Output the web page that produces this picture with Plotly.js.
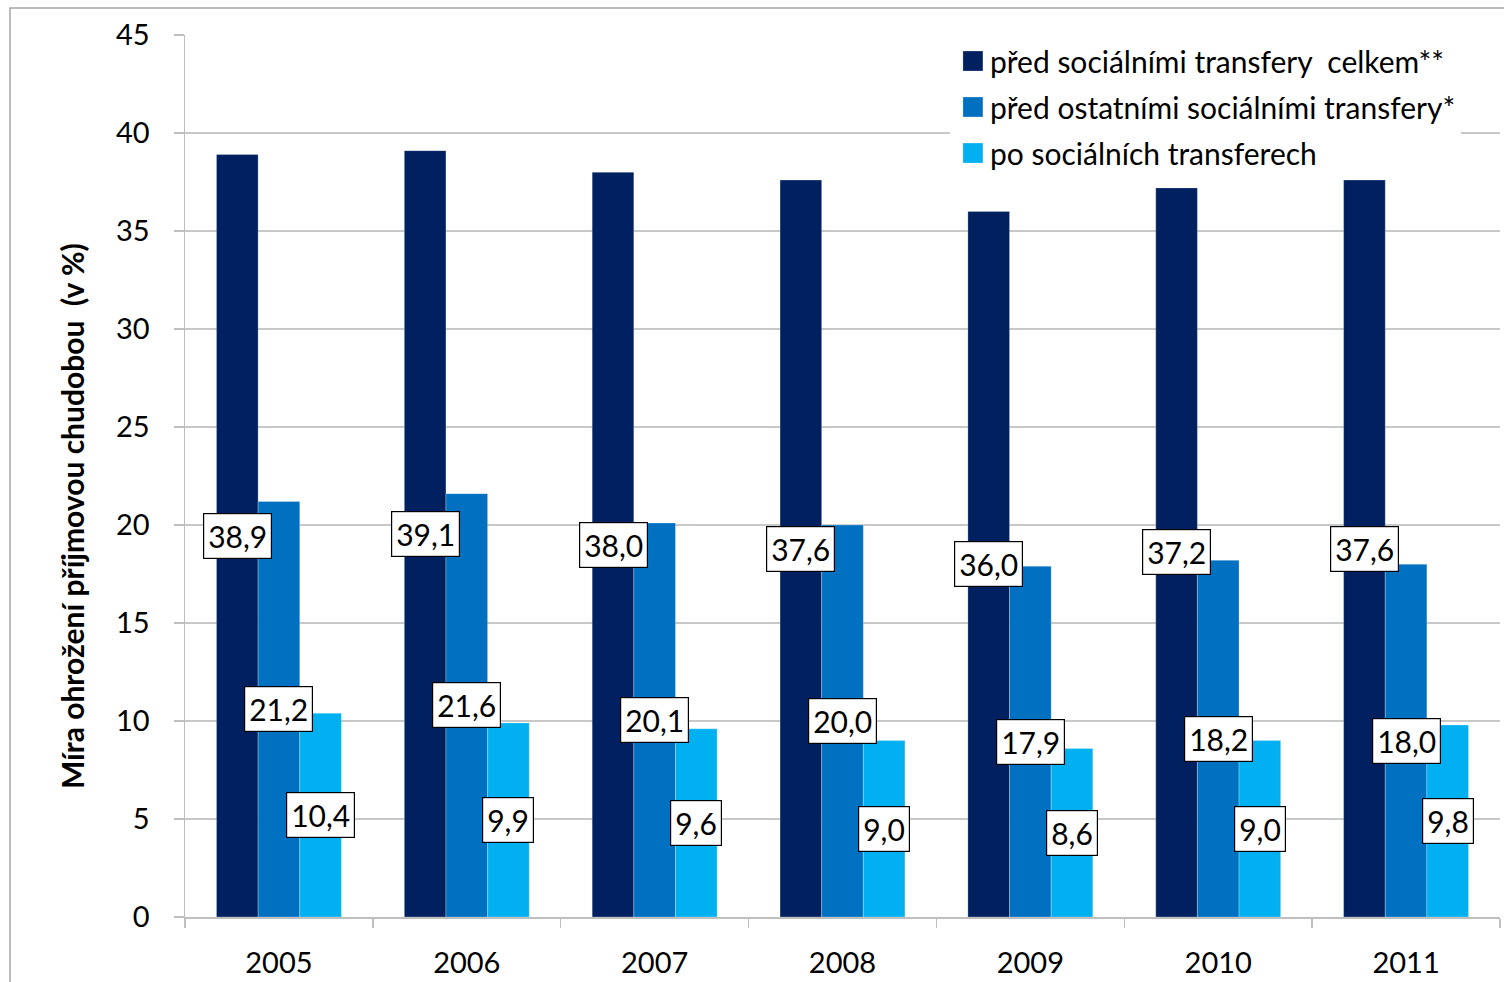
<!DOCTYPE html>
<html>
<head>
<meta charset="utf-8">
<script src="https://cdn.plot.ly/plotly-3.0.1.min.js"></script>
<style>html,body{margin:0;padding:0;background:#fff;}#chart{width:1504px;height:982px;}</style>
</head>
<body>
<div id="chart"></div>
<script>
const years = ['2005','2006','2007','2008','2009','2010','2011'];
const seriesNames = ['před sociálními transfery  celkem**','před ostatními sociálními transfery*','po sociálních transferech'];
const beforeAll = [38.9, 39.1, 38.0, 37.6, 36.0, 37.2, 37.6];
const beforeOther = [21.2, 21.6, 20.1, 20.0, 17.9, 18.2, 18.0];
const afterTransfers = [10.4, 9.9, 9.6, 9.0, 8.6, 9.0, 9.8];
const colors = ['#002060', '#0070C0', '#00B0F0'];
const yTitle = 'Míra ohrožení příjmovou chudobou  (v %)';

const FONT = 'Lato, "Noto Sans", sans-serif';
const bargap = 0.335;
const barW = (1 - bargap) / 3;
const series = [beforeAll, beforeOther, afterTransfers];

const traces = series.map((vals, k) => ({
  type: 'bar',
  name: seriesNames[k],
  x: years,
  y: vals,
  legendgroup: 'g' + k,
  marker: {color: colors[k], line: {color: 'rgba(255,255,255,0.45)', width: 0.6}},
  hoverinfo: 'skip'
}));

const annotations = [];
series.forEach((vals, k) => {
  vals.forEach((v, i) => {
    annotations.push({
      x: i + (k - 1) * barW,
      y: v / 2,
      xref: 'x', yref: 'y',
      text: v.toFixed(1).replace('.', ','),
      showarrow: false,
      font: {family: FONT, size: 30, color: '#000'},
      bgcolor: '#ffffff',
      bordercolor: '#000000',
      borderwidth: 1.2,
      borderpad: 4
    });
  });
});
annotations.push({
  xref: 'paper', yref: 'paper',
  x: -0.0859, y: 0.4546,
  xanchor: 'center', yanchor: 'middle',
  textangle: -90,
  text: yTitle,
  showarrow: false,
  font: {family: FONT, size: 30, color: '#000', weight: 'bold'}
});

const layout = {
  width: 1504, height: 982,
  margin: {l: 185, r: 4, t: 35, b: 65},
  paper_bgcolor: '#ffffff',
  plot_bgcolor: '#ffffff',
  barmode: 'group',
  bargap: bargap,
  bargroupgap: 0,
  font: {family: FONT, color: '#000'},
  xaxis: {
    type: 'category',
    tickson: 'boundaries',
    ticks: 'outside', ticklen: 9, tickcolor: '#bfbfbf', tickwidth: 1.5,
    showline: true, linecolor: '#bfbfbf', linewidth: 1.5,
    showgrid: false,
    tickfont: {family: FONT, size: 29, color: '#000'},
    ticklabelstandoff: 20
  },
  yaxis: {
    range: [0, 45], dtick: 5,
    ticks: 'outside', ticklen: 10, tickcolor: '#bfbfbf', tickwidth: 1.5,
    showline: true, linecolor: '#bfbfbf', linewidth: 1.5,
    showgrid: true, gridcolor: '#c8c8c8', gridwidth: 1.5,
    zeroline: false,
    tickfont: {family: FONT, size: 29, color: '#000'},
    ticklabelstandoff: 18
  },
  legend: {
    x: 0.5817, xanchor: 'left', y: 1.0, yanchor: 'top',
    bgcolor: '#ffffff',
    borderwidth: 0,
    font: {family: FONT, size: 30, color: '#000'},
    traceorder: 'grouped',
    tracegroupgap: 4,
    itemwidth: 30
  },
  annotations: annotations,
  shapes: [
    {
      type: 'rect', xref: 'paper', yref: 'paper',
      x0: -0.1331, x1: 1.02, y0: -0.12, y1: 1.0306,
      line: {color: '#a6a6a6', width: 1.5}, layer: 'below'
    }
  ]
};

Plotly.newPlot('chart', traces, layout, {displayModeBar: false, staticPlot: true}).then(() => {
  document.querySelectorAll('.legendpoints path').forEach(p => {
    p.setAttribute('d', 'M33,10H13V-10H33Z');
    p.removeAttribute('transform');
  });
});
</script>
</body>
</html>
